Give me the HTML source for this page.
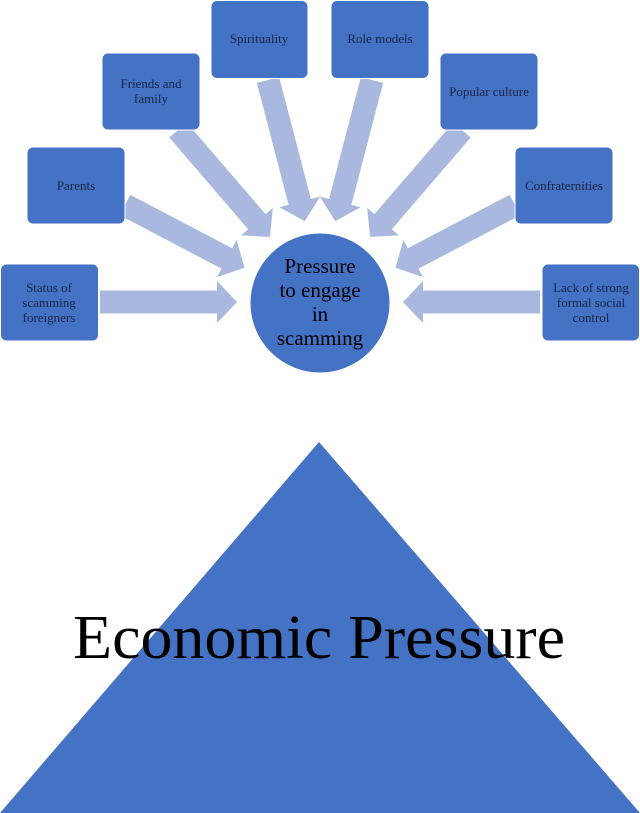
<!DOCTYPE html>
<html><head><meta charset="utf-8"><style>
html,body{margin:0;padding:0;background:#fff;}
svg{display:block;}
.bt{font-family:"Liberation Serif",serif;font-size:13px;fill:#1b2547;text-anchor:middle;}
</style></head><body>
<svg width="640" height="813" viewBox="0 0 640 813" xmlns="http://www.w3.org/2000/svg">
<g fill="#a9b8de">
<g transform="translate(100,302) rotate(0)"><path d="M0,-11.5 L117,-11.5 L117,-21 L137,0 L117,21 L117,11.5 L0,11.5 Z"/></g>
<g transform="translate(540,302) rotate(180)"><path d="M0,-11.5 L117,-11.5 L117,-21 L137,0 L117,21 L117,11.5 L0,11.5 Z"/></g>
<g transform="translate(125,205) rotate(27.7)"><path d="M0,-11.5 L115,-11.5 L115,-21 L135,0 L115,21 L115,11.5 L0,11.5 Z"/></g>
<g transform="translate(515,205) rotate(152.3)"><path d="M0,-11.5 L115,-11.5 L115,-21 L135,0 L115,21 L115,11.5 L0,11.5 Z"/></g>
<g transform="translate(178,130) rotate(49.3)"><path d="M0,-11.5 L121,-11.5 L121,-21 L141,0 L121,21 L121,11.5 L0,11.5 Z"/></g>
<g transform="translate(462,130) rotate(130.7)"><path d="M0,-11.5 L121,-11.5 L121,-21 L141,0 L121,21 L121,11.5 L0,11.5 Z"/></g>
<g transform="translate(268,80) rotate(75.4)"><path d="M0,-11.5 L126,-11.5 L126,-21 L146,0 L126,21 L126,11.5 L0,11.5 Z"/></g>
<g transform="translate(372,80) rotate(104.6)"><path d="M0,-11.5 L126,-11.5 L126,-21 L146,0 L126,21 L126,11.5 L0,11.5 Z"/></g>
</g>
<g fill="#4472c4" stroke="#ffffff" stroke-width="1">
<rect x="0.5" y="264" width="98" height="77" rx="6"/>
<rect x="27" y="147" width="98" height="77" rx="6"/>
<rect x="102" y="53" width="98" height="77" rx="6"/>
<rect x="211" y="0.5" width="97" height="78" rx="6"/>
<rect x="331" y="0.5" width="98" height="78" rx="6"/>
<rect x="440" y="53" width="98" height="77" rx="6"/>
<rect x="515" y="147" width="98" height="77" rx="6"/>
<rect x="542" y="264" width="97.5" height="77" rx="6"/>
<circle cx="320" cy="303" r="70"/>
</g>
<text class="bt" x="49" y="292">Status of</text>
<text class="bt" x="49" y="307">scamming</text>
<text class="bt" x="49" y="322">foreigners</text>
<text class="bt" x="76" y="190">Parents</text>
<text class="bt" x="151" y="88">Friends and</text>
<text class="bt" x="151" y="103">family</text>
<text class="bt" x="259" y="43">Spirituality</text>
<text class="bt" x="380" y="43">Role models</text>
<text class="bt" x="489" y="96">Popular culture</text>
<text class="bt" x="564" y="190">Confraternities</text>
<text class="bt" x="591" y="292">Lack of strong</text>
<text class="bt" x="591" y="307">formal social</text>
<text class="bt" x="591" y="322">control</text>
<g font-family="Liberation Serif, serif" font-size="21" fill="#000" text-anchor="middle">
<text x="320" y="273">Pressure</text>
<text x="320" y="297">to engage</text>
<text x="320" y="321">in</text>
<text x="320" y="345">scamming</text>
</g>
<polygon points="319,442 640,813 0,813" fill="#4472c4"/>
<text x="73" y="658" font-family="Liberation Serif, serif" font-size="62" fill="#000" textLength="492" lengthAdjust="spacingAndGlyphs">Economic Pressure</text>
</svg>
</body></html>
